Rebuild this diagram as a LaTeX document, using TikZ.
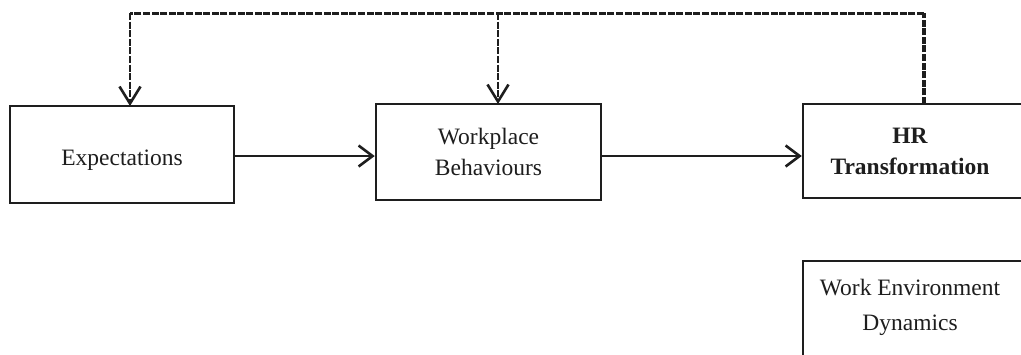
\documentclass[tikz,border=0pt]{standalone}
\usepackage{fontspec}
\setmainfont{Liberation Serif}
\usetikzlibrary{arrows.meta}
\definecolor{ink}{HTML}{1E1E1E}
\tikzset{
  box/.style={draw=ink, line width=2.5pt, rectangle, inner sep=0pt, text=ink,
              align=center, font=\fontsize{23.5}{31}\selectfont},
  lbl/.style={text=ink, align=center, inner sep=0pt},
  flow/.style={draw=ink, line width=2.8pt,
               -{Straight Barb[length=14pt,width=21pt,line width=2.6pt]}},
  fb/.style={draw=ink, line width=3pt, dash pattern=on 7pt off 1.6pt},
  fbtip/.style={fb, -{Straight Barb[length=17pt,width=21pt,line width=2.6pt]}}
}
\begin{document}
\begin{tikzpicture}[x=1pt,y=-1pt]
\useasboundingbox (0,0) rectangle (1021,354);
\clip (0,0) rectangle (1021,354);
\fill[white] (0,0) rectangle (1021,354);

% boxes
\node[box, minimum width=224pt, minimum height=97pt, text height=21pt, text depth=0pt] (exp) at (122,154.5) {Expectations};
\node[box, minimum width=225pt, minimum height=96pt] (wb) at (488.5,152) {Workplace\\Behaviours};
\node[box, minimum width=232pt, minimum height=94pt] (hr) at (919,151) {};
\node[lbl, font=\fontsize{23.5}{31}\selectfont\bfseries] (hrtext) at (910,151.5) {HR\\Transformation};
\node[box, minimum width=232pt, minimum height=119pt] (we) at (919,320.5) {};
\node[lbl, font=\fontsize{23.5}{35}\selectfont] (wetext) at (910,307.5) {Work Environment\\Dynamics};

% main flow
\coordinate (row) at (0,156);
\draw[flow] (exp.east |- row) -- (wb.west |- row);
\draw[flow] (wb.east |- row) -- (hr.west |- row);

% feedback loop along the top
\coordinate (top) at (0,13);
\coordinate (hrup) at (924,104);
\coordinate (expdn) at (130,106);
\coordinate (wbdn) at (498,104);
\draw[fb] (hrup |- top) -- (expdn |- top);
\draw[fb, line width=4.2pt] (hrup) -- (hrup |- top);
\draw[fbtip, line width=2.4pt] (expdn |- top) -- (expdn);
\draw[fbtip, line width=2.4pt] (wbdn |- top) -- (wbdn);
\end{tikzpicture}
\end{document}
